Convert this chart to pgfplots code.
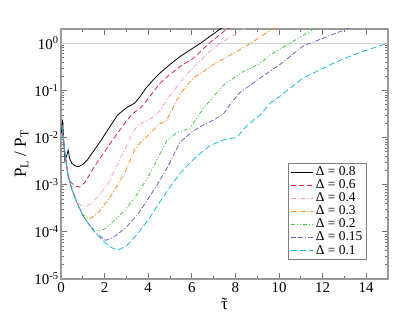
\documentclass[border=0pt]{standalone}
\usepackage{fontspec}
\setmainfont{Liberation Serif}
\usepackage{pgfplots}
\pgfplotsset{compat=1.18}
\definecolor{cRed}{HTML}{E0204A}
\definecolor{cPink}{HTML}{F59AD0}
\definecolor{cOrange}{HTML}{FF8A1E}
\definecolor{cGreen}{HTML}{3CC83C}
\definecolor{cPurple}{HTML}{6A64C8}
\definecolor{cCyan}{HTML}{1EB4E6}
\begin{document}
\begin{tikzpicture}
\begin{axis}[
  scale only axis, width=327bp, height=250bp,
  xmin=0, xmax=15, ymode=log, ymin=1e-5, ymax=2,
  xtick={0,2,...,14}, xticklabels={0,2,4,6,8,10,12,14},
  minor x tick num=1,
  ytick={1e-5,1e-4,1e-3,1e-2,1e-1,1},
  yticklabels={10\textsuperscript{-5},10\textsuperscript{-4},10\textsuperscript{-3},10\textsuperscript{-2},10\textsuperscript{-1},10\textsuperscript{0}},
  tick label style={font=\fontsize{15}{16}\selectfont},
  yticklabel style={xshift=1bp},
  xticklabel style={yshift=0bp},
  axis line style={draw=gray!80, line width=1.2pt},
  major tick length=6bp, minor tick length=3bp,
  every tick/.style={draw=gray!90!black, line width=0.7pt},
  xlabel={\accent"02DC τ}, ylabel={P\textsubscript{L} / P\textsubscript{T}},
  label style={font=\fontsize{17}{18}\selectfont},
  xlabel style={yshift=1bp},
  ylabel style={yshift=-1bp},
  legend cell align=left,
  legend style={at={(0.694,0.466)}, anchor=north west, draw=gray, line width=0.8pt,
    font=\fontsize{13.5}{14}\selectfont, row sep=-1.4pt, inner sep=2pt},
  legend image code/.code={\draw[#1] (0cm,0cm) -- (0.8cm,0cm);},
  legend image post style={line width=0.9pt},
  every axis plot/.append style={line width=0.8pt},
]
\draw[gray!35, line width=0.5pt] (axis cs:0,1) -- (axis cs:15,1);
% Delta = 0.8
\addplot[black, solid] coordinates {
(0.02,1.259e-2)(0.07,2.399e-2)(0.12,1e-2)(0.18,3.162e-3)(0.25,3.981e-3)(0.33,5.370e-3)(0.4,3.548e-3)(0.5,2.818e-3)(0.65,2.512e-3)(0.8,2.399e-3)(1.0,2.692e-3)(1.2,3.311e-3)(1.4,4.467e-3)(1.85,8.913e-3)(2.2,1.585e-2)(2.6,3.020e-2)(3.0,4.266e-2)(3.38,5.370e-2)(3.6,7.079e-2)(3.9,1.122e-1)(4.45,2.138e-1)(5.0,3.548e-1)(5.5,5.370e-1)(6.0,7.586e-1)(6.4,1.0)(7.3,1.995)(7.6,2.5)};
\addlegendentry{Δ = 0.8}
% Delta = 0.6
\addplot[cRed, dash pattern=on 5pt off 3pt] coordinates {
(0.05,1.778e-2)(0.12,7.943e-3)(0.2,3.981e-3)(0.32,1.585e-3)(0.45,1.122e-3)(0.65,9.333e-4)(0.86,8.913e-4)(1.1,1.122e-3)(1.55,2.512e-3)(2.0,5.012e-3)(2.6,1.259e-2)(3.0,2.239e-2)(3.3,3.236e-2)(3.7,4.467e-2)(4.0,6.761e-2)(4.54,1.413e-1)(4.9,1.995e-1)(5.5,3.311e-1)(6.07,4.786e-1)(6.8,1.0)(7.6,1.995)(8.0,2.5)};
\addlegendentry{Δ = 0.6}
% Delta = 0.4
\addplot[cPink, dash pattern=on 5pt off 2pt on 1pt off 2pt] coordinates {
(0.05,1.778e-2)(0.12,7.943e-3)(0.2,3.981e-3)(0.32,1.585e-3)(0.5,7.943e-4)(0.75,4.169e-4)(0.95,3.548e-4)(1.16,3.388e-4)(1.5,4.467e-4)(1.8,6.310e-4)(2.16,1.072e-3)(2.69,3.311e-3)(3.23,1.122e-2)(3.5,1.778e-2)(3.84,2.188e-2)(4.2,2.630e-2)(4.5,3.548e-2)(4.9,6.761e-2)(5.61,1.820e-1)(6.2,3.548e-1)(6.83,6.607e-1)(7.3,1.0)(8.36,1.995)(8.7,2.5)};
\addlegendentry{Δ = 0.4}
% Delta = 0.3
\addplot[cOrange, dash pattern=on 5pt off 2pt on 1pt off 2pt] coordinates {
(0.05,1.778e-2)(0.12,7.943e-3)(0.2,3.981e-3)(0.32,1.585e-3)(0.5,7.943e-4)(0.75,3.981e-4)(1.0,2.344e-4)(1.32,1.905e-4)(1.7,2.512e-4)(2.2,5.012e-4)(2.92,1.738e-3)(3.38,5.623e-3)(3.7,8.318e-3)(4.0,1.122e-2)(4.5,1.905e-2)(4.85,2.344e-2)(5.15,4.467e-2)(5.5,8.913e-2)(6.07,1.820e-1)(7.0,3.548e-1)(8.06,6.607e-1)(8.7,1.0)(9.7,1.995)(10.1,2.5)};
\addlegendentry{Δ = 0.3}
% Delta = 0.2
\addplot[cGreen, dash pattern=on 4pt off 2pt on 1pt off 2pt on 1pt off 2pt] coordinates {
(0.05,1.778e-2)(0.12,7.943e-3)(0.2,3.981e-3)(0.32,1.585e-3)(0.5,7.943e-4)(0.75,3.981e-4)(1.0,2.239e-4)(1.25,1.514e-4)(1.5,1.122e-4)(1.75,1.047e-4)(2.0,1.148e-4)(2.3,1.514e-4)(2.92,2.818e-4)(3.5,6.310e-4)(4.0,1.479e-3)(4.6,5.012e-3)(4.85,8.511e-3)(5.3,1.259e-2)(5.92,1.585e-2)(6.53,4.169e-2)(7.45,1.288e-1)(8.3,2.399e-1)(9.13,3.715e-1)(9.6,5.623e-1)(10.5,1.0)(11.6,1.995)(12.0,2.5)};
\addlegendentry{Δ = 0.2}
% Delta = 0.15
\addplot[cPurple, dash pattern=on 5pt off 2pt on 5pt off 2pt on 1pt off 2pt] coordinates {
(0.05,1.778e-2)(0.12,7.943e-3)(0.2,3.981e-3)(0.32,1.585e-3)(0.5,7.943e-4)(0.75,3.981e-4)(1.0,2.239e-4)(1.25,1.514e-4)(1.5,1.047e-4)(1.75,8.318e-5)(2.05,6.607e-5)(2.4,7.586e-5)(3.0,1.259e-4)(3.53,2.399e-4)(4.0,5.012e-4)(4.45,1.072e-3)(4.9,2.399e-3)(5.46,7.943e-3)(6.0,1.318e-2)(6.5,1.820e-2)(7.0,2.344e-2)(7.45,3.162e-2)(7.8,5.370e-2)(8.2,8.913e-2)(9.13,1.820e-1)(10.05,3.548e-1)(11.1,8.710e-1)(13.1,1.995)(13.5,2.5)};
\addlegendentry{Δ = 0.15}
% Delta = 0.1
\addplot[cCyan, dash pattern=on 6pt off 3pt] coordinates {
(0.05,1.778e-2)(0.12,7.943e-3)(0.2,3.981e-3)(0.32,1.585e-3)(0.5,7.943e-4)(0.75,3.981e-4)(1.0,2.239e-4)(1.25,1.514e-4)(1.5,1.047e-4)(1.75,7.943e-5)(2.0,6.026e-5)(2.3,4.677e-5)(2.6,4.074e-5)(3.0,5.012e-5)(3.5,8.913e-5)(4.0,1.778e-4)(4.54,4.365e-4)(5.0,8.913e-4)(5.46,1.738e-3)(6.0,3.162e-3)(6.38,4.571e-3)(6.8,6.607e-3)(7.45,8.913e-3)(8.06,1.0e-2)(8.52,1.778e-2)(9.13,3.020e-2)(9.6,5.370e-2)(10.0,7.244e-2)(11.1,1.820e-1)(12.65,4.074e-1)(13.8,6.607e-1)(15,1.0)};
\addlegendentry{Δ = 0.1}
\end{axis}
\path (current axis.south west) ++(-61bp,-42bp) coordinate (bbA);
\path (current axis.north east) ++(27bp,29bp) coordinate (bbB);
\useasboundingbox (bbA) rectangle (bbB);
\end{tikzpicture}
\end{document}
